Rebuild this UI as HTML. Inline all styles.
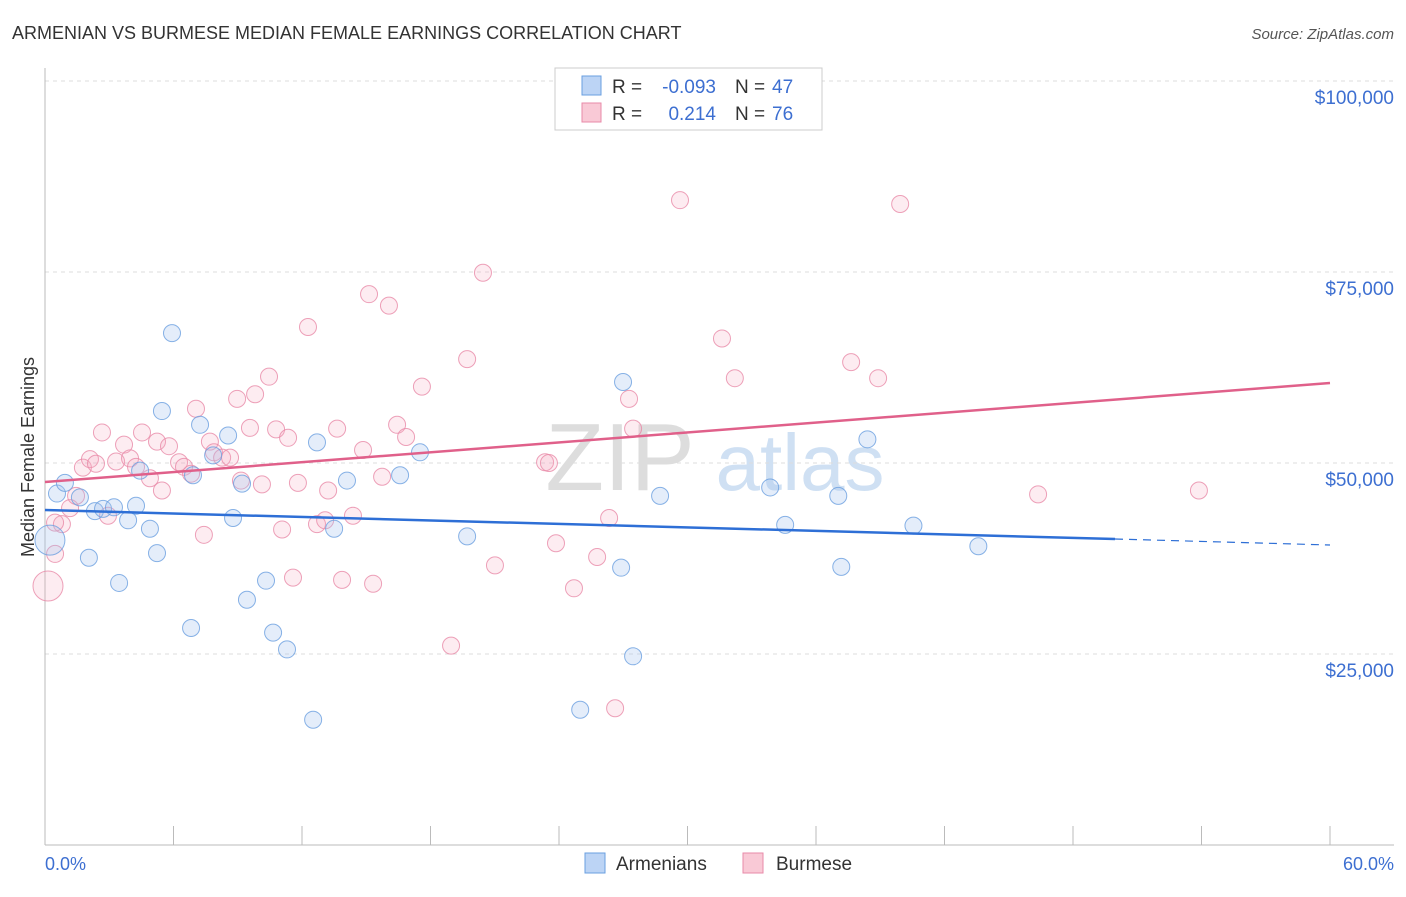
<!DOCTYPE html>
<html><head><meta charset="utf-8"><style>
body{margin:0;background:#fff;font-family:"Liberation Sans",sans-serif;}
svg text{font-family:"Liberation Sans",sans-serif;}
</style></head><body>
<svg id="chart" width="1406" height="892">
<text x="12" y="39" font-size="18" fill="#333">ARMENIAN VS BURMESE MEDIAN FEMALE EARNINGS CORRELATION CHART</text>
<text x="1394" y="39" font-size="15" fill="#555" font-style="italic" text-anchor="end">Source: ZipAtlas.com</text>
<text x="620" y="490" font-size="96" fill="#ddd" font-family="Liberation Serif" text-anchor="middle">ZIP</text>
<text x="800" y="490" font-size="80" fill="#cfe0f3" text-anchor="middle">atlas</text>
<g id="grid"></g><g id="axes"></g><g id="pts"></g><g id="lines"></g>
<text transform="translate(34,457) rotate(-90)" font-size="18" fill="#333" text-anchor="middle">Median Female Earnings</text>
<text x="45" y="870" font-size="18" fill="#3d6fd1">0.0%</text>
<text x="1394" y="870" font-size="18" fill="#3d6fd1" text-anchor="end">60.0%</text>
<g>
<rect x="555" y="68" width="267" height="62" fill="#fff" stroke="#ccc"/>
<rect x="582" y="76" width="19" height="19" fill="#bcd4f5" stroke="#6a9fe0"/>
<rect x="582" y="103" width="19" height="19" fill="#f9c9d6" stroke="#e88aa8"/>
<text x="612" y="93" font-size="19" fill="#333">R =</text>
<text x="716" y="93" font-size="19" fill="#3d6fd1" text-anchor="end">-0.093</text>
<text x="735" y="93" font-size="19" fill="#333">N =</text>
<text x="772" y="93" font-size="19" fill="#3d6fd1">47</text>
<text x="612" y="120" font-size="19" fill="#333">R =</text>
<text x="716" y="120" font-size="19" fill="#3d6fd1" text-anchor="end">0.214</text>
<text x="735" y="120" font-size="19" fill="#333">N =</text>
<text x="772" y="120" font-size="19" fill="#3d6fd1">76</text>
</g>
<g>
<rect x="585" y="853" width="20" height="20" fill="#bcd4f5" stroke="#6a9fe0"/>
<text x="616" y="870" font-size="19" fill="#333">Armenians</text>
<rect x="743" y="853" width="20" height="20" fill="#f9c9d6" stroke="#e88aa8"/>
<text x="776" y="870" font-size="19" fill="#333">Burmese</text>
</g>
</svg>
<script>
const yTicks=[25000,50000,75000,100000];
const yTickLabels=["$25,000","$50,000","$75,000","$100,000"];
const blueX=[0.56,0.93,1.63,2.33,2.05,2.71,3.22,3.46,3.88,4.25,4.44,4.9,5.23,5.46,5.93,6.82,6.91,7.24,7.85,8.55,8.78,9.2,9.43,10.32,10.65,11.3,12.52,12.7,13.5,14.1,16.58,17.51,19.71,24.99,26.9,26.99,27.46,28.72,33.86,34.56,37.04,37.18,38.4,40.55,43.58,0.23];
const blueY=[46000,47400,45500,43700,37600,44000,44200,34300,42500,44400,49000,41400,38200,56800,67000,28400,48400,55000,51000,53600,42800,47300,32100,34600,27800,25600,16400,52700,41400,47700,48400,51400,40400,17700,36300,60600,24700,45700,46800,41900,45700,36400,53100,41800,39100,39900];
const pinkX=[0.14,0.47,0.79,1.17,1.45,1.77,2.1,2.38,2.66,2.94,3.32,3.69,3.97,4.25,4.53,4.9,5.23,5.46,5.79,6.26,6.49,6.82,7.05,7.42,7.7,7.89,8.27,8.64,8.97,9.15,9.57,9.81,10.13,10.46,10.79,11.07,11.35,11.58,11.81,12.28,12.7,13.08,13.22,13.64,13.87,14.38,14.85,15.13,15.32,15.74,16.06,16.44,16.86,17.6,18.96,19.71,20.45,21.01,23.35,23.53,23.86,24.7,25.78,26.34,26.62,27.27,27.46,29.65,31.61,32.21,37.64,38.9,39.93,46.37,53.88,0.47];
const pinkY=[33900,38100,42000,44100,45700,49400,50500,49900,54000,43100,50200,52400,50600,49500,54000,48000,52800,46400,52200,50100,49500,48600,57100,40600,52800,51400,50700,50700,58400,47700,54600,59000,47200,61300,54400,41300,53300,35000,47400,67800,42000,42500,46400,54500,34700,43100,51700,72100,34200,48200,70600,55000,53400,60000,26100,63600,74900,36600,50100,50000,39500,33600,37700,42800,17900,58400,54500,84400,66300,61100,63200,61100,83900,45900,46400,42200];
const blueBig=[0,0,0,0,0,0,0,0,0,0,0,0,0,0,0,0,0,0,0,0,0,0,0,0,0,0,0,0,0,0,0,0,0,0,0,0,0,0,0,0,0,0,0,0,0,1];
const pinkBig=[1].concat(new Array(75).fill(0));
const NS="http://www.w3.org/2000/svg";
const xs=v=>45+v/60*1285, ys=v=>845-v/25000*191;
function mk(t,a,p){const e=document.createElementNS(NS,t);for(const k in a)e.setAttribute(k,a[k]);p.appendChild(e);return e;}
const grid=document.getElementById('grid'),axes=document.getElementById('axes'),pts=document.getElementById('pts'),lines=document.getElementById('lines');
yTicks.forEach((v,i)=>{
 const l=mk('line',{x1:45,x2:1394,y1:ys(v),y2:ys(v),stroke:'#ddd','stroke-dasharray':'4,4'},grid);
 
 
 const t=mk('text',{x:1394,y:ys(v)+23,'font-size':19,fill:'#3d6fd1','text-anchor':'end'},grid);t.textContent=yTickLabels[i];
 
 
});
mk('line',{x1:45,x2:45,y1:68,y2:845,stroke:'#bbb'},axes);
mk('line',{x1:45,x2:1394,y1:845,y2:845,stroke:'#bbb'},axes);
for(let i=0;i<=10;i++){const x=45+i*128.5;const tk=mk('line',{x1:x,x2:x,y1:826,y2:845,stroke:'#bbb'},axes);
 
 }
function draw(X,Y,B,fill,stroke,name){X.forEach((x,i)=>{const c=mk('circle',{cx:xs(x),cy:ys(Y[i]),r:B[i]?15:8.5,fill:fill,stroke:stroke,'stroke-width':1,'stroke-opacity':0.8},pts);
 
 });}
draw(pinkX,pinkY,pinkBig,'rgba(244,170,190,0.22)','#e88aa8','burmese-point');
draw(blueX,blueY,blueBig,'rgba(164,196,240,0.3)','#6a9fe0','armenian-point');
const bl=mk('line',{x1:45,y1:510,x2:1115,y2:539,stroke:'#2e6fd6','stroke-width':2.5},lines);


const bd=mk('line',{x1:1115,y1:539,x2:1330,y2:545,stroke:'#2e6fd6','stroke-width':1.2,'stroke-dasharray':'8,6'},lines);


const pl=mk('line',{x1:45,y1:482,x2:1330,y2:383,stroke:'#e0608a','stroke-width':2.5},lines);


</script>
</body></html>
